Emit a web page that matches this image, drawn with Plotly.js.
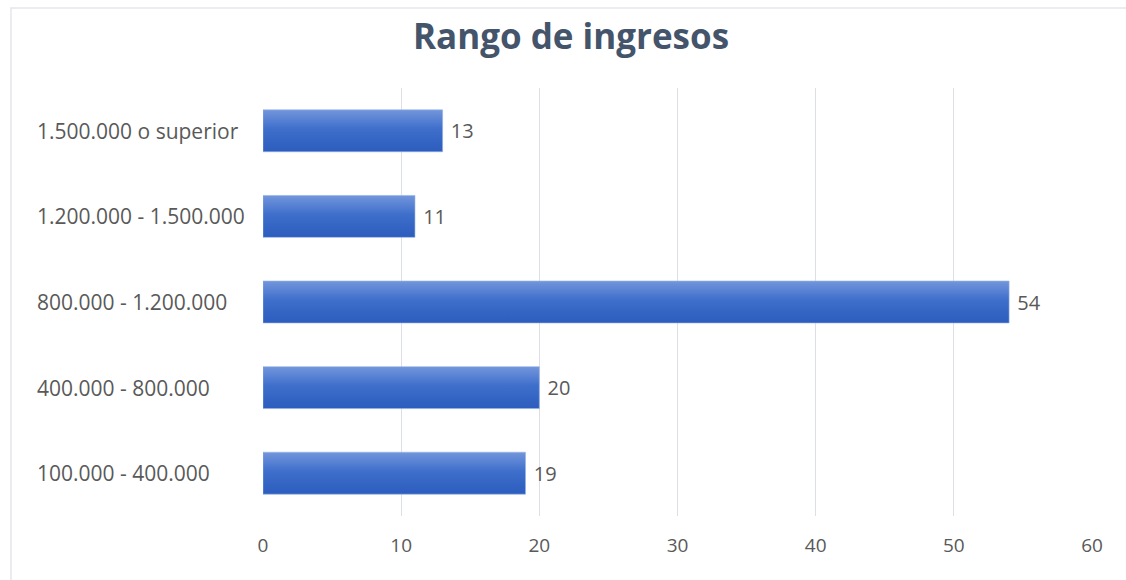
<!DOCTYPE html>
<html>
<head>
<meta charset="utf-8">
<script src="https://cdn.plot.ly/plotly-3.0.1.min.js"></script>
<style>html,body{margin:0;padding:0;background:#fff;}#chart{width:1126px;height:580px;}</style>
</head>
<body>
<div id="chart"></div>
<script>
// Data
const categories = ["100.000 - 400.000", "400.000 - 800.000", "800.000 - 1.200.000", "1.200.000 - 1.500.000", "1.500.000 o superior"];
const values = [19, 20, 54, 11, 13];
const xTicks = [0, 10, 20, 30, 40, 50, 60];
const chartTitle = "Rango de ingresos";

const textGray = "#595959";
const L = 263, R = 34, T = 88, B = 64, W = 1126, H = 580;
const pw = W - L - R, ph = H - T - B;
const px = v => (v - L) / pw;       // pixel x -> paper
const py = v => (H - B - v) / ph;   // pixel y -> paper

const trace = {
  type: "bar",
  orientation: "h",
  y: categories,
  x: values,
  marker: { color: "#3d6cc7", line: { color: "rgba(150,180,230,0.6)", width: 1 } },
  text: values.map(v => " " + v),
  textposition: "outside",
  textfont: { family: "Open Sans, sans-serif", size: 20, color: textGray },
  cliponaxis: false,
  hoverinfo: "none"
};

const annotations = categories.map(c => ({
  xref: "paper", yref: "y", x: px(35), y: c,
  xanchor: "left", yanchor: "middle",
  text: c, showarrow: false,
  font: { family: "Open Sans, sans-serif", size: 21, color: textGray }
}));

const layout = {
  width: W, height: H,
  margin: { l: L, r: R, t: T, b: B, pad: 0 },
  paper_bgcolor: "#ffffff",
  plot_bgcolor: "#ffffff",
  showlegend: false,
  bargap: 0.51,
  title: {
    text: "<b>" + chartTitle + "</b>",
    xref: "container", yref: "container",
    x: 571 / W, y: 1 - 37 / H, xanchor: "center", yanchor: "middle",
    font: { family: "Open Sans, sans-serif", size: 35, color: "#44546A" }
  },
  xaxis: {
    range: [0, 60],
    tickvals: xTicks,
    ticktext: xTicks.map(String),
    showgrid: true, gridcolor: "#dcdfe6", gridwidth: 1,
    zeroline: false, showline: false,
    ticks: "", ticklabelstandoff: 16,
    tickfont: { family: "Open Sans, sans-serif", size: 19, color: textGray },
    fixedrange: true
  },
  yaxis: {
    type: "category",
    categoryorder: "array", categoryarray: categories,
    range: [-0.5, categories.length - 0.5],
    showticklabels: false, showgrid: false, zeroline: false, showline: false, ticks: "",
    fixedrange: true
  },
  annotations: annotations,
  shapes: [{
    type: "rect", xref: "paper", yref: "paper",
    x0: px(11), x1: px(1135), y0: py(590), y1: py(8),
    line: { color: "#e4e6ec", width: 1.5 }, fillcolor: "rgba(0,0,0,0)", layer: "below"
  }]
};

Plotly.newPlot("chart", [trace], layout, { staticPlot: true, displayModeBar: false }).then(gd => {
  const svg = gd.querySelector("svg.main-svg");
  const ns = "http://www.w3.org/2000/svg";
  let defs = svg.querySelector("defs");
  if (!defs) { defs = document.createElementNS(ns, "defs"); svg.insertBefore(defs, svg.firstChild); }
  const g = document.createElementNS(ns, "linearGradient");
  g.setAttribute("id", "barGrad");
  g.setAttribute("x1", "0"); g.setAttribute("y1", "0");
  g.setAttribute("x2", "0"); g.setAttribute("y2", "1");
  [["0", "#7396dc"], ["0.45", "#3f6fcb"], ["1", "#2c5cbd"]].forEach(([o, c]) => {
    const s = document.createElementNS(ns, "stop");
    s.setAttribute("offset", o); s.setAttribute("stop-color", c);
    g.appendChild(s);
  });
  defs.appendChild(g);
  gd.querySelectorAll(".barlayer .point path").forEach(p => { p.style.fill = "url(#barGrad)"; });
});
</script>
</body>
</html>
